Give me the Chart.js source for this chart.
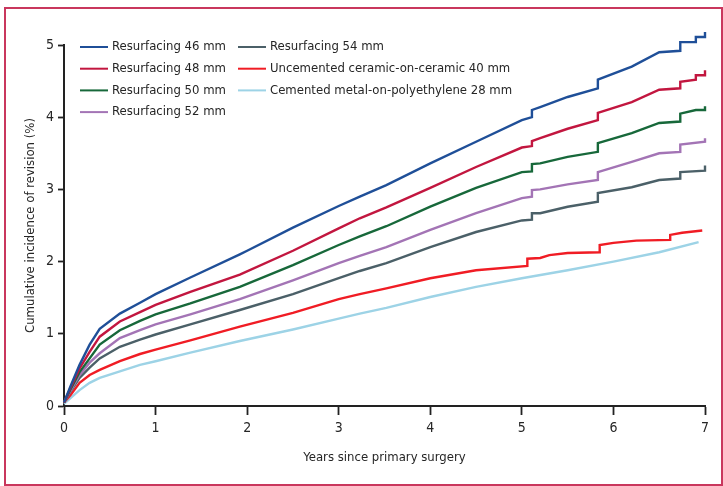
<!DOCTYPE html>
<html>
<head>
<meta charset="utf-8">
<script src="https://cdn.jsdelivr.net/npm/chart.js@4.4.0/dist/chart.umd.min.js"></script>
<style>
  body { margin: 0; background: #fff; }
  #wrap { position: relative; width: 723px; height: 486px; }
  #frame { position: absolute; left: 4px; top: 7px; width: 715px; height: 475px; border: 2px solid #c9375d; pointer-events: none; }
</style>
</head>
<body>
<div id="wrap">
  <canvas id="chart" width="723" height="486"></canvas>
  <div id="frame"></div>
</div>
<script>
// series: [years, cumulative incidence %]
const rs46 = [[0,0.05],[0.07,0.27],[0.17,0.57],[0.28,0.85],[0.39,1.07],[0.61,1.28],[0.83,1.43],[1,1.55],[1.38,1.78],[1.92,2.1],[2,2.15],[2.5,2.47],[3,2.77],[3.23,2.9],[3.52,3.06],[4,3.36],[4.5,3.66],[5,3.96],[5.11,4.0],[5.11,4.1],[5.2,4.14],[5.5,4.28],[5.83,4.4],[5.83,4.52],[6.2,4.7],[6.5,4.9],[6.73,4.92],[6.73,5.04],[6.9,5.04],[6.9,5.11],[7,5.11],[7,5.18]];
const rs48 = [[0,0.05],[0.07,0.25],[0.17,0.52],[0.28,0.75],[0.39,0.96],[0.61,1.17],[0.83,1.3],[1,1.4],[1.38,1.58],[1.92,1.82],[2.5,2.15],[3,2.46],[3.23,2.6],[3.52,2.75],[4,3.02],[4.5,3.31],[5,3.58],[5.11,3.6],[5.11,3.67],[5.2,3.71],[5.5,3.84],[5.83,3.96],[5.83,4.06],[6.2,4.21],[6.5,4.38],[6.73,4.4],[6.73,4.49],[6.9,4.52],[6.9,4.58],[7,4.58],[7,4.65]];
const rs50 = [[0,0.05],[0.07,0.23],[0.17,0.47],[0.28,0.66],[0.39,0.85],[0.61,1.05],[0.83,1.18],[1,1.27],[1.38,1.42],[1.92,1.65],[2.5,1.95],[3,2.23],[3.23,2.35],[3.52,2.49],[4,2.76],[4.5,3.02],[5,3.24],[5.11,3.25],[5.11,3.35],[5.2,3.36],[5.5,3.45],[5.83,3.52],[5.83,3.64],[6.2,3.78],[6.5,3.92],[6.73,3.94],[6.73,4.05],[6.9,4.1],[7,4.1],[7,4.15]];
const rs52 = [[0,0.05],[0.07,0.21],[0.17,0.43],[0.28,0.6],[0.39,0.73],[0.61,0.94],[0.83,1.05],[1,1.13],[1.38,1.27],[1.92,1.48],[2.5,1.74],[3,1.98],[3.23,2.08],[3.52,2.2],[4,2.44],[4.5,2.67],[5,2.88],[5.11,2.9],[5.11,2.99],[5.2,3.0],[5.5,3.07],[5.83,3.13],[5.83,3.24],[6.2,3.38],[6.5,3.5],[6.73,3.52],[6.73,3.62],[7,3.66],[7,3.71]];
const rs54 = [[0,0.05],[0.07,0.2],[0.17,0.39],[0.28,0.53],[0.39,0.66],[0.61,0.82],[0.83,0.92],[1,0.99],[1.38,1.13],[1.92,1.33],[2.5,1.55],[3,1.77],[3.23,1.87],[3.52,1.98],[4,2.2],[4.5,2.41],[5,2.57],[5.11,2.58],[5.11,2.67],[5.2,2.67],[5.5,2.76],[5.83,2.83],[5.83,2.95],[6.2,3.03],[6.5,3.13],[6.73,3.15],[6.73,3.24],[7,3.26],[7,3.33]];
const ucc40 = [[0,0.05],[0.07,0.15],[0.17,0.32],[0.28,0.43],[0.39,0.5],[0.61,0.62],[0.83,0.72],[1,0.78],[1.38,0.91],[1.92,1.1],[2.5,1.29],[3,1.48],[3.23,1.55],[3.52,1.63],[4,1.77],[4.5,1.88],[5.06,1.94],[5.06,2.04],[5.2,2.05],[5.3,2.09],[5.5,2.12],[5.85,2.13],[5.85,2.23],[6,2.26],[6.25,2.29],[6.62,2.3],[6.62,2.37],[6.75,2.4],[6.97,2.43]];
const cmp28 = [[0,0.03],[0.07,0.11],[0.17,0.22],[0.28,0.32],[0.39,0.39],[0.61,0.48],[0.83,0.57],[1,0.62],[1.38,0.74],[1.92,0.9],[2.5,1.06],[3,1.21],[3.23,1.28],[3.52,1.36],[4,1.51],[4.5,1.65],[5,1.77],[5.5,1.88],[6,2.0],[6.5,2.13],[6.93,2.27]];

const seriesNames = ['Resurfacing 46 mm', 'Resurfacing 48 mm', 'Resurfacing 50 mm', 'Resurfacing 52 mm',
                     'Resurfacing 54 mm', 'Uncemented ceramic-on-ceramic 40 mm', 'Cemented metal-on-polyethylene 28 mm'];
const seriesData = [rs46, rs48, rs50, rs52, rs54, ucc40, cmp28];
const seriesColors = ['#1f4f98', '#c2163f', '#17683a', '#a374b5', '#4b6068', '#f01c24', '#9dd3e6'];
const xTicks = [0, 1, 2, 3, 4, 5, 6, 7];
const yTicks = [0, 1, 2, 3, 4, 5];

const FONT = "'Liberation Sans Narrow', 'DejaVu Sans Condensed', 'Roboto Condensed', sans-serif";
const INK = '#262626';

// two-column legend in the top-left corner of the plot
const cornerLegend = {
    id: 'cornerLegend',
    afterDatasetsDraw(chart) {
        const { ctx, chartArea } = chart;
        ctx.save();
        ctx.font = `13px ${FONT}`;
        ctx.textBaseline = 'middle';
        ctx.fillStyle = INK;
        chart.data.datasets.forEach((ds, i) => {
            const col = i < 4 ? 0 : 1;
            const row = i < 4 ? i : i - 4;
            const x = chartArea.left + (col ? 174 : 16);
            const y = chartArea.top + 2 + row * 21.7;
            ctx.strokeStyle = ds.borderColor;
            ctx.lineWidth = 2;
            ctx.beginPath();
            ctx.moveTo(x, y);
            ctx.lineTo(x + 28, y);
            ctx.stroke();
            ctx.fillText(ds.label, x + 32, y);
        });
        ctx.restore();
    }
};

new Chart(document.getElementById('chart'), {
    type: 'line',
    data: {
        datasets: seriesNames.map((name, i) => ({
            label: name,
            data: seriesData[i].map(p => ({ x: p[0], y: p[1] })),
            borderColor: seriesColors[i],
            borderWidth: 2.4,
            pointRadius: 0,
            tension: 0,
            fill: false,
            clip: false
        }))
    },
    options: {
        responsive: false,
        animation: false,
        layout: { padding: { left: 0, top: 45, right: 18, bottom: 0 } },
        plugins: { legend: { display: false }, tooltip: { enabled: false } },
        scales: {
            x: {
                type: 'linear',
                min: 0, max: 7,
                afterBuildTicks: s => { s.ticks = xTicks.map(v => ({ value: v })); },
                afterFit: s => { s.height = 80; },
                grid: { drawOnChartArea: false, tickLength: 9, tickWidth: 1.8, tickColor: '#222' },
                border: { color: '#222', width: 2 },
                ticks: { color: INK, padding: 5, font: { family: FONT, size: 14 } },
                title: { display: true, text: 'Years since primary surgery', color: INK,
                         font: { family: FONT, size: 13 }, padding: { top: 0, bottom: 21 } }
            },
            y: {
                min: 0, max: 5,
                afterBuildTicks: s => { s.ticks = yTicks.map(v => ({ value: v })); },
                afterFit: s => { s.width = 64; },
                grid: { drawOnChartArea: false, tickLength: 6, tickWidth: 1.8, tickColor: '#222' },
                border: { color: '#222', width: 2 },
                ticks: { color: INK, padding: 4, font: { family: FONT, size: 14 } },
                title: { display: true, text: 'Cumulative incidence of revision (%)', color: INK,
                         font: { family: FONT, size: 13 }, padding: { top: 23, bottom: 0 } }
            }
        }
    },
    plugins: [cornerLegend]
});
</script>
</body>
</html>
